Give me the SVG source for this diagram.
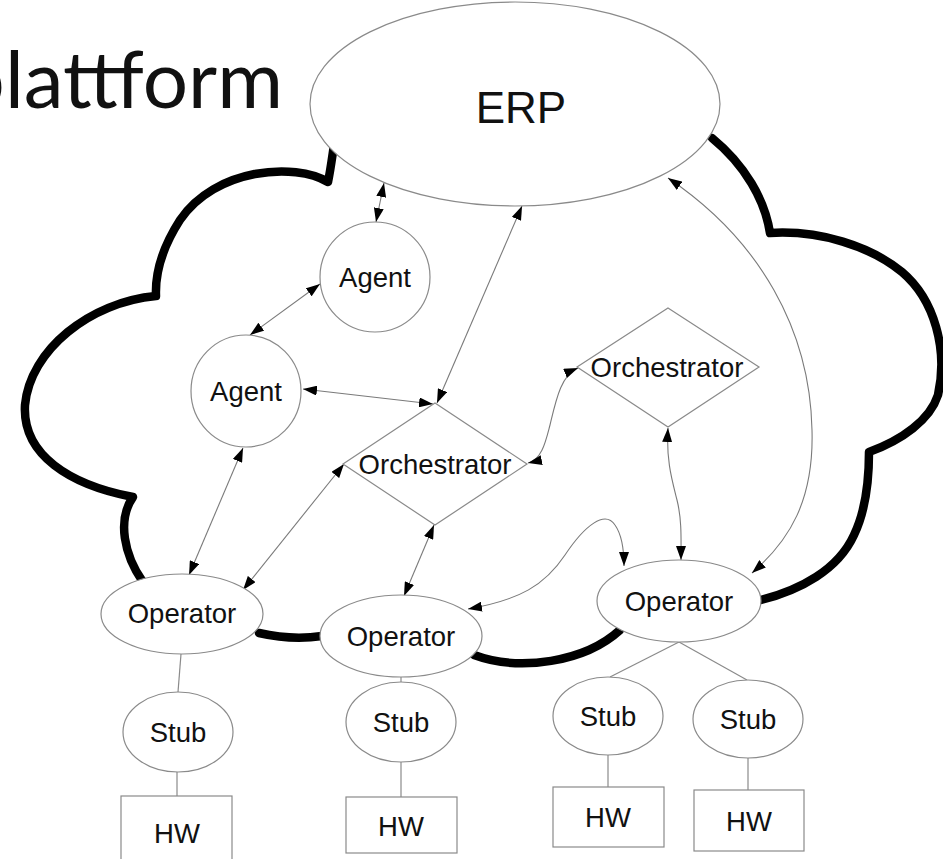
<svg xmlns="http://www.w3.org/2000/svg" width="943" height="859" viewBox="0 0 943 859">
  <style>
    .node { fill: #ffffff; stroke: #8a8a8a; stroke-width: 1.2; }
    .lbl { font-family: "Liberation Sans", Arial, sans-serif; font-size: 27.5px; fill: #111; text-anchor: middle; dominant-baseline: central; }
    .big { font-size: 44px; }
    .conn { fill: none; stroke: #7a7a7a; stroke-width: 1.1; marker-start: url(#tri); marker-end: url(#tri); }
    .wire { fill: none; stroke: #8a8a8a; stroke-width: 1.2; }
    .cloud { fill: none; stroke: #000; stroke-width: 8.5; stroke-linecap: round; stroke-linejoin: round; }
  </style>
  <defs>
    <marker id="tri" viewBox="0 0 14 10" refX="14" refY="5" markerWidth="14" markerHeight="10" markerUnits="userSpaceOnUse" orient="auto-start-reverse">
      <path d="M0,0 L14,5 L0,10 Z" fill="#000"/>
    </marker>
  </defs>

  <rect width="943" height="859" fill="#fff"/>

  <!-- page title, runs off the left edge -->
  <text x="283" y="108" font-family="Lato, 'Open Sans', sans-serif" font-size="80" text-anchor="end" fill="#111">plattform</text>

  <!-- cloud outline -->
  <g id="cloud">
    <path class="cloud" d="M336,132 C333,150 331,168 328,182 C295,162 215,168 180,220 C162,248 155,272 156,296 C90,302 30,350 25,405 C22,455 70,485 133,497 C117,520 124,555 143,582"/>
    <path class="cloud" d="M259,633 C281,638 301,639 322,636"/>
    <path class="cloud" d="M474,655 C520,672 585,662 620,630"/>
    <path class="cloud" d="M761,600 C800,590 838,570 854,535 C866,510 869,480 869,452 C902,440 930,420 938,395 C948,350 935,300 902,272 C870,246 820,230 770,233 C765,200 745,165 712,138"/>
  </g>

  <!-- connectors -->
  <g id="connectors">
    <path class="conn" d="M384,183 L376,222"/>
    <path class="conn" d="M320,284 L250,335"/>
    <path class="conn" d="M303,389 L433,404"/>
    <path class="conn" d="M522,206 L437,403"/>
    <path class="conn" d="M243,448 L189,575"/>
    <path class="conn" d="M344,464 L243,590"/>
    <path class="conn" d="M434,525 L404,596"/>
    <path class="conn" d="M528,463 C542,460 546,440 550,425 C556,400 561,375 578,368"/>
    <path class="conn" d="M668,428 C666,460 672,480 677,500 C682,520 681,540 681,560"/>
    <path class="conn" d="M468,609 C520,600 545,585 565,555 C585,525 605,510 615,525 C622,535 624,550 624,566"/>
    <path class="conn" d="M668,178 C760,240 810,330 812,430 C814,500 790,540 752,573"/>
    <!-- plain links down to stubs and hardware -->
    <path class="wire" d="M181,654 L178,692"/>
    <path class="wire" d="M177,772 L177,796"/>
    <path class="wire" d="M401,677 L401,683"/>
    <path class="wire" d="M401,762 L401,797"/>
    <path class="wire" d="M679,642 L610,677"/>
    <path class="wire" d="M679,642 L747,680"/>
    <path class="wire" d="M608,755 L608,787"/>
    <path class="wire" d="M748,758 L748,790"/>
  </g>

  <g id="erp">
    <ellipse class="node" cx="515" cy="104" rx="205" ry="102"/>
    <text class="lbl big" x="521" y="107">ERP</text>
  </g>
  <g id="agent-top">
    <ellipse class="node" cx="375" cy="277" rx="55" ry="55"/>
    <text class="lbl" x="375" y="277">Agent</text>
  </g>
  <g id="agent-left">
    <ellipse class="node" cx="246" cy="391" rx="55" ry="56"/>
    <text class="lbl" x="246" y="391">Agent</text>
  </g>
  <g id="orchestrator-center">
    <polygon class="node" points="435,403 527,464 435,525 343,464"/>
    <text class="lbl" x="435" y="464">Orchestrator</text>
  </g>
  <g id="orchestrator-right">
    <polygon class="node" points="668,308 759,367 668,427 577,367"/>
    <text class="lbl" x="667" y="367">Orchestrator</text>
  </g>
  <g id="operator-1">
    <ellipse class="node" cx="182" cy="614" rx="81" ry="40"/>
    <text class="lbl" x="182" y="613">Operator</text>
  </g>
  <g id="operator-2">
    <ellipse class="node" cx="401" cy="636" rx="81" ry="41"/>
    <text class="lbl" x="401" y="636">Operator</text>
  </g>
  <g id="operator-3">
    <ellipse class="node" cx="679" cy="601" rx="82" ry="41"/>
    <text class="lbl" x="679" y="601">Operator</text>
  </g>
  <g id="stub-1">
    <ellipse class="node" cx="178" cy="732" rx="55" ry="40"/>
    <text class="lbl" x="178" y="732">Stub</text>
  </g>
  <g id="stub-2">
    <ellipse class="node" cx="401" cy="722" rx="55" ry="40"/>
    <text class="lbl" x="401" y="722">Stub</text>
  </g>
  <g id="stub-3">
    <ellipse class="node" cx="608" cy="716" rx="55" ry="39"/>
    <text class="lbl" x="608" y="716">Stub</text>
  </g>
  <g id="stub-4">
    <ellipse class="node" cx="748" cy="719" rx="55" ry="39"/>
    <text class="lbl" x="748" y="719">Stub</text>
  </g>
  <g id="hw-1">
    <rect class="node" x="121" y="796" width="111" height="70"/>
    <text class="lbl" x="177" y="833">HW</text>
  </g>
  <g id="hw-2">
    <rect class="node" x="346" y="797" width="111" height="56"/>
    <text class="lbl" x="401" y="826">HW</text>
  </g>
  <g id="hw-3">
    <rect class="node" x="553" y="787" width="111" height="60"/>
    <text class="lbl" x="608" y="817">HW</text>
  </g>
  <g id="hw-4">
    <rect class="node" x="694" y="790" width="110" height="61"/>
    <text class="lbl" x="749" y="821">HW</text>
  </g>
</svg>
